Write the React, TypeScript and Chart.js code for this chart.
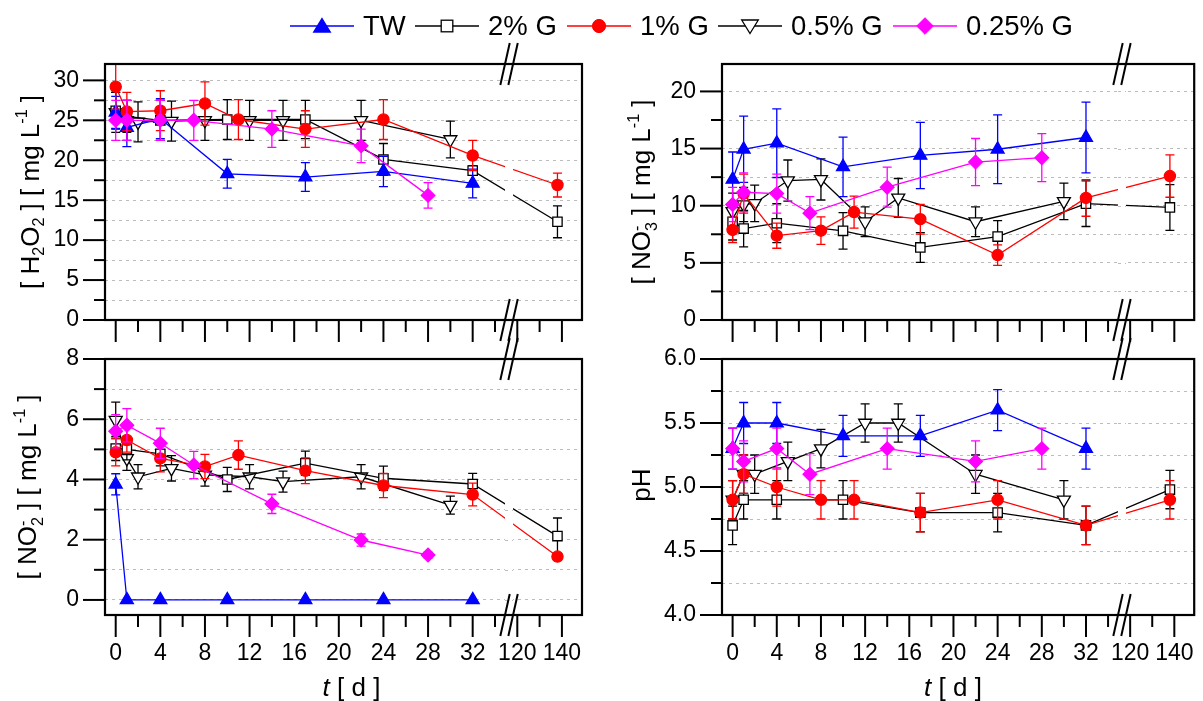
import React, { useEffect, useRef } from "react";
import { Chart, registerables } from "chart.js";
Chart.register(...registerables);

const FONT = '"Liberation Sans", Arial, Helvetica, sans-serif';
Chart.defaults.font.family = FONT;

// ---------- sampling days ----------
const DAYS_TW = [0, 1, 4, 10, 17, 24, 32];
const DAYS_G2 = [0, 1, 4, 10, 17, 24, 32, 138];
const DAYS_G1 = [0, 1, 4, 8, 11, 17, 24, 32, 138];
const DAYS_G05 = [0, 1, 2, 5, 8, 12, 15, 22, 30];
const DAYS_G025 = [0, 1, 4, 7, 14, 22, 28];

// ---------- H2O2 [mg/L] ----------
const H2O2_TW = [26.0, 24.1, 25.2, 18.3, 17.9, 18.6, 17.1];
const H2O2_TW_ERR = [2.0, 2.4, 2.5, 1.8, 1.8, 1.9, 1.8];
const H2O2_G2 = [26.2, 25.5, 25.0, 25.1, 25.1, 20.1, 18.7, 12.3];
const H2O2_G2_ERR = [2.3, 2.0, 2.5, 2.5, 2.4, 2.0, 0.6, 2.0];
const H2O2_G1 = [29.2, 26.1, 26.2, 27.1, 25.1, 23.9, 25.1, 20.6, 16.9];
const H2O2_G1_ERR = [2.8, 2.4, 2.5, 2.7, 2.5, 2.3, 2.5, 1.9, 1.5];
const H2O2_G05 = [26.0, 25.0, 24.8, 24.9, 25.0, 25.0, 25.0, 25.0, 22.6];
const H2O2_G05_ERR = [2.5, 2.5, 2.5, 2.5, 2.5, 2.5, 2.5, 2.5, 2.3];
const H2O2_G025 = [25.0, 25.0, 25.0, 25.0, 23.9, 21.8, 15.6];
const H2O2_G025_ERR = [2.5, 2.5, 2.5, 2.5, 2.3, 2.1, 1.6];

// ---------- NO2- [mg/L] ----------
const NO2_TW = [3.84, 0, 0, 0, 0, 0, 0];
const NO2_TW_ERR = [0.35, 0, 0, 0, 0, 0, 0];
const NO2_G2 = [5.03, 5.0, 4.85, 4.0, 4.54, 4.04, 3.85, 2.12];
const NO2_G2_ERR = [0.4, 0.35, 0.4, 0.4, 0.4, 0.4, 0.35, 0.6];
const NO2_G1 = [4.9, 5.31, 4.7, 4.43, 4.81, 4.29, 3.8, 3.5, 1.44];
const NO2_G1_ERR = [0.45, 0.4, 0.45, 0.4, 0.47, 0.43, 0.4, 0.38, 0.1];
const NO2_G05 = [5.97, 4.7, 4.09, 4.37, 4.15, 4.09, 3.93, 4.09, 3.15];
const NO2_G05_ERR = [0.6, 0.4, 0.4, 0.42, 0.37, 0.4, 0.35, 0.4, 0.3];
const NO2_G025 = [5.6, 5.8, 5.2, 4.48, 3.19, 1.99, 1.49];
const NO2_G025_ERR = [0.55, 0.55, 0.5, 0.45, 0.32, 0.2, 0.1];

// ---------- NO3- [mg/L] ----------
const NO3_TW = [12.3, 14.94, 15.47, 13.4, 14.4, 14.94, 15.97];
const NO3_TW_ERR = [2.4, 2.9, 3.0, 2.6, 2.9, 3.0, 3.1];
const NO3_G2 = [8.6, 8.0, 8.47, 7.8, 6.35, 7.3, 10.18, 9.85];
const NO3_G2_ERR = [1.6, 1.6, 1.7, 1.6, 1.3, 1.4, 2.0, 2.0];
const NO3_G1 = [7.88, 11.06, 7.38, 7.82, 9.44, 8.82, 5.68, 10.68, 12.59];
const NO3_G1_ERR = [1.1, 1.7, 1.1, 1.2, 1.4, 1.3, 0.9, 1.6, 1.85];
const NO3_G05 = [9.5, 10.1, 10.2, 12.2, 12.3, 8.6, 10.68, 8.6, 10.38];
const NO3_G05_ERR = [1.6, 1.5, 1.6, 1.8, 1.8, 1.3, 1.7, 1.3, 1.6];
const NO3_G025 = [10.1, 11.18, 11.06, 9.35, 11.62, 13.82, 14.2];
const NO3_G025_ERR = [1.5, 1.7, 1.7, 1.45, 1.75, 2.06, 2.1];

// ---------- pH ----------
const PH_TW = [5.3, 5.5, 5.5, 5.4, 5.4, 5.6, 5.3];
const PH_TW_ERR = [0.16, 0.16, 0.16, 0.16, 0.16, 0.16, 0.16];
const PH_G2 = [4.7, 4.9, 4.9, 4.9, 4.8, 4.8, 4.7, 4.98];
const PH_G2_ERR = [0.15, 0.15, 0.15, 0.15, 0.15, 0.15, 0.15, 0.15];
const PH_G1 = [4.9, 5.1, 5.0, 4.9, 4.9, 4.8, 4.9, 4.7, 4.9];
const PH_G1_ERR = [0.15, 0.15, 0.15, 0.15, 0.15, 0.15, 0.15, 0.15, 0.15];
const PH_G05 = [4.9, 5.1, 5.1, 5.2, 5.3, 5.5, 5.5, 5.1, 4.9];
const PH_G05_ERR = [0.15, 0.15, 0.15, 0.15, 0.15, 0.15, 0.15, 0.15, 0.15];
const PH_G025 = [5.3, 5.2, 5.3, 5.1, 5.3, 5.2, 5.3];
const PH_G025_ERR = [0.16, 0.16, 0.16, 0.16, 0.16, 0.16, 0.16];

// ---------- axes ----------
// broken time axis: 0..34 d linear, then 120..140 d compressed 5x
const SEG2_START_DAY = 120;
const SEG2_START_POS = 36;
const SEG2_COMPRESS = 5;
const dayToPos = (d: number) => (d <= 34 ? d : SEG2_START_POS + (d - SEG2_START_DAY) / SEG2_COMPRESS);
const X_MIN = -0.96;
const X_MAX = 41.8;
const BREAK_FROM = 34.9;
const BREAK_TO = 35.62;
const X_TICK_POS = [0, 2, 4, 6, 8, 10, 12, 14, 16, 18, 20, 22, 24, 26, 28, 30, 32, 34, 36, 38, 40];
const X_TICK_LABELS = ["0", "", "4", "", "8", "", "12", "", "16", "", "20", "", "24", "", "28", "", "32", "", "120", "", "140"];

const H2O2_Y_TICKS = [0, 2.5, 5, 7.5, 10, 12.5, 15, 17.5, 20, 22.5, 25, 27.5, 30];
const NO3_Y_TICKS = [0, 2.5, 5, 7.5, 10, 12.5, 15, 17.5, 20];
const NO2_Y_TICKS = [0, 1, 2, 3, 4, 5, 6, 7, 8];
const PH_Y_TICKS = [4.0, 4.25, 4.5, 4.75, 5.0, 5.25, 5.5, 5.75, 6.0];

const GRID_COLOR = "#bcbcbc";

type SeriesStyle = {
  label: string;
  days: number[];
  color: string;
  fill: string;
  pointStyle: string;
  rotation: number;
  radius: number;
  order: number;
};

const SERIES: SeriesStyle[] = [
  { label: "TW", days: DAYS_TW, color: "#0000ff", fill: "#0000ff", pointStyle: "triangle", rotation: 0, radius: 7.5, order: 2 },
  { label: "2% G", days: DAYS_G2, color: "#000000", fill: "#ffffff", pointStyle: "rect", rotation: 0, radius: 6.6, order: 3 },
  { label: "1% G", days: DAYS_G1, color: "#ff0000", fill: "#ff0000", pointStyle: "circle", rotation: 0, radius: 5.6, order: 1 },
  { label: "0.5% G", days: DAYS_G05, color: "#000000", fill: "#ffffff", pointStyle: "triangle", rotation: 180, radius: 7.5, order: 4 },
  { label: "0.25% G", days: DAYS_G025, color: "#ff00ff", fill: "#ff00ff", pointStyle: "rectRot", rotation: 0, radius: 6.8, order: 0 },
];

type PanelDef = {
  id: string;
  left: number;
  top: number;
  w: number;
  h: number;
  padTop: number;
  padRight: number;
  yWidth: number;
  xHeight: number;
  yMin: number;
  yMax: number;
  yTicks: number[];
  yMajor: number;
  yDecimals: number;
  showXLabels: boolean;
  values: number[][];
  errs: number[][];
};

const PANELS: PanelDef[] = [
  {
    id: "h2o2", left: 0, top: 30, w: 600, h: 320, padTop: 34, padRight: 18, yWidth: 105, xHeight: 30,
    yMin: 0, yMax: 32.05, yTicks: H2O2_Y_TICKS, yMajor: 5, yDecimals: 0, showXLabels: false,
    values: [H2O2_TW, H2O2_G2, H2O2_G1, H2O2_G05, H2O2_G025],
    errs: [H2O2_TW_ERR, H2O2_G2_ERR, H2O2_G1_ERR, H2O2_G05_ERR, H2O2_G025_ERR],
  },
  {
    id: "no3", left: 600, top: 30, w: 603, h: 320, padTop: 34, padRight: 5, yWidth: 122, xHeight: 30,
    yMin: 0, yMax: 22.4, yTicks: NO3_Y_TICKS, yMajor: 5, yDecimals: 0, showXLabels: false,
    values: [NO3_TW, NO3_G2, NO3_G1, NO3_G05, NO3_G025],
    errs: [NO3_TW_ERR, NO3_G2_ERR, NO3_G1_ERR, NO3_G05_ERR, NO3_G025_ERR],
  },
  {
    id: "no2", left: 0, top: 335, w: 600, h: 366, padTop: 24, padRight: 18, yWidth: 105, xHeight: 86,
    yMin: -0.5, yMax: 8, yTicks: NO2_Y_TICKS, yMajor: 2, yDecimals: 0, showXLabels: true,
    values: [NO2_TW, NO2_G2, NO2_G1, NO2_G05, NO2_G025],
    errs: [NO2_TW_ERR, NO2_G2_ERR, NO2_G1_ERR, NO2_G05_ERR, NO2_G025_ERR],
  },
  {
    id: "ph", left: 600, top: 335, w: 603, h: 366, padTop: 24, padRight: 5, yWidth: 122, xHeight: 86,
    yMin: 4.0, yMax: 6.0, yTicks: PH_Y_TICKS, yMajor: 0.5, yDecimals: 1, showXLabels: true,
    values: [PH_TW, PH_G2, PH_G1, PH_G05, PH_G025],
    errs: [PH_TW_ERR, PH_G2_ERR, PH_G1_ERR, PH_G05_ERR, PH_G025_ERR],
  },
];

const isMajorY = (v: number, step: number) => Math.abs(v / step - Math.round(v / step)) < 1e-6;

function makePlugin(p: PanelDef) {
  return {
    id: "deco_" + p.id,
    beforeDatasetDraw(chart: any, args: any) {
      const i = args.index;
      const s = SERIES[i];
      const errs = p.errs[i];
      const vals = p.values[i];
      const xs = chart.scales.x;
      const ys = chart.scales.y;
      const ctx = chart.ctx;
      ctx.save();
      ctx.strokeStyle = s.color;
      ctx.lineWidth = 1.3;
      for (let j = 0; j < vals.length; j++) {
        const e = errs[j];
        if (!e) continue;
        const px = xs.getPixelForValue(dayToPos(s.days[j]));
        const y0 = ys.getPixelForValue(vals[j] - e);
        const y1 = ys.getPixelForValue(vals[j] + e);
        ctx.beginPath();
        ctx.moveTo(px, y0);
        ctx.lineTo(px, y1);
        ctx.moveTo(px - 4.5, y0);
        ctx.lineTo(px + 4.5, y0);
        ctx.moveTo(px - 4.5, y1);
        ctx.lineTo(px + 4.5, y1);
        ctx.stroke();
      }
      ctx.restore();
    },
    afterDatasetsDraw(chart: any) {
      const { ctx, chartArea: a } = chart;
      const xs = chart.scales.x;
      const ys = chart.scales.y;
      ctx.save();
      // gap in the traces at the axis break
      const bx0 = xs.getPixelForValue(BREAK_FROM);
      const bx1 = xs.getPixelForValue(BREAK_TO);
      ctx.fillStyle = "#ffffff";
      ctx.fillRect(bx0, a.top + 1.5, bx1 - bx0, a.bottom - a.top - 3);
      ctx.strokeStyle = GRID_COLOR;
      ctx.lineWidth = 1;
      ctx.setLineDash([3, 4]);
      for (const v of p.yTicks) {
        const y = Math.round(ys.getPixelForValue(v)) + 0.5;
        if (y <= a.top + 2 || y >= a.bottom - 2) continue;
        ctx.beginPath();
        ctx.moveTo(bx0, y);
        ctx.lineTo(bx1, y);
        ctx.stroke();
      }
      ctx.setLineDash([]);
      // frame
      ctx.strokeStyle = "#000000";
      ctx.lineWidth = 2.2;
      ctx.strokeRect(a.left, a.top, a.right - a.left, a.bottom - a.top);
      // y tick marks
      ctx.lineWidth = 2;
      for (const v of p.yTicks) {
        const y = ys.getPixelForValue(v);
        const len = isMajorY(v, p.yMajor) ? 22 : 11;
        ctx.beginPath();
        ctx.moveTo(a.left - len, y);
        ctx.lineTo(a.left, y);
        ctx.stroke();
      }
      // x tick marks
      X_TICK_POS.forEach((v, k) => {
        const x = xs.getPixelForValue(v);
        const len = X_TICK_LABELS[k] !== "" ? 22 : 12;
        ctx.beginPath();
        ctx.moveTo(x, a.bottom);
        ctx.lineTo(x, a.bottom + len);
        ctx.stroke();
      });
      // break marks
      ctx.lineWidth = 2;
      for (const yy of [a.top, a.bottom]) {
        for (const cx of [bx0, bx1]) {
          ctx.beginPath();
          ctx.moveTo(cx - 4.7, yy + 21);
          ctx.lineTo(cx + 4.7, yy - 21);
          ctx.stroke();
        }
      }
      ctx.restore();
    },
  };
}

function Panel({ p }: { p: PanelDef }) {
  const ref = useRef<HTMLCanvasElement>(null);
  useEffect(() => {
    const datasets = SERIES.map((s, i) => ({
      label: s.label,
      data: s.days.map((d, j) => ({ x: dayToPos(d), y: p.values[i][j] })),
      borderColor: s.color,
      backgroundColor: s.fill,
      borderWidth: 1.3,
      pointStyle: s.pointStyle,
      pointRotation: s.rotation,
      pointRadius: s.radius,
      pointBorderColor: s.color,
      pointBackgroundColor: s.fill,
      pointBorderWidth: 1.3,
      tension: 0,
      fill: false,
      order: s.order,
    }));
    const chart = new Chart(ref.current as HTMLCanvasElement, {
      type: "line",
      data: { datasets } as any,
      options: {
        animation: false,
        responsive: false,
        maintainAspectRatio: false,
        devicePixelRatio: 1,
        events: [],
        layout: { padding: { top: p.padTop, right: p.padRight, left: 0, bottom: 0 } },
        plugins: { legend: { display: false }, tooltip: { enabled: false }, title: { display: false } },
        scales: {
          x: {
            type: "linear",
            min: X_MIN,
            max: X_MAX,
            afterBuildTicks: (s: any) => {
              s.ticks = X_TICK_POS.map((v) => ({ value: v }));
            },
            afterFit: (s: any) => {
              s.height = p.xHeight;
            },
            grid: { drawOnChartArea: false, drawTicks: true, tickLength: 22, tickColor: "rgba(0,0,0,0)" },
            border: { display: false },
            ticks: {
              display: p.showXLabels,
              autoSkip: false,
              maxRotation: 0,
              minRotation: 0,
              padding: 3,
              color: "#000000",
              font: { size: 23, family: FONT },
              callback: (v: any) => {
                const k = X_TICK_POS.indexOf(Number(v));
                return k >= 0 ? X_TICK_LABELS[k] : "";
              },
            },
          },
          y: {
            type: "linear",
            min: p.yMin,
            max: p.yMax,
            afterBuildTicks: (s: any) => {
              s.ticks = p.yTicks.map((v) => ({ value: v }));
            },
            afterFit: (s: any) => {
              s.width = p.yWidth;
            },
            grid: { color: GRID_COLOR, lineWidth: 1, drawTicks: true, tickLength: 22, tickColor: "rgba(0,0,0,0)" },
            border: { display: false, dash: [3, 4] },
            ticks: {
              autoSkip: false,
              padding: 4,
              color: "#000000",
              font: { size: 23, family: FONT },
              callback: (v: any) => {
                const n = Number(v);
                return isMajorY(n, p.yMajor) ? n.toFixed(p.yDecimals) : "";
              },
            },
          },
        },
      } as any,
      plugins: [makePlugin(p)],
    });
    return () => chart.destroy();
  }, []);
  return (
    <canvas
      ref={ref}
      width={p.w}
      height={p.h}
      style={{ position: "absolute", left: p.left, top: p.top, width: p.w, height: p.h }}
    />
  );
}

function Marker({ s }: { s: SeriesStyle }) {
  const cx = 32;
  const cy = 12;
  let shape: React.ReactNode = null;
  if (s.pointStyle === "triangle" && s.rotation === 0) {
    shape = <polygon points={`${cx},${cy - 7.5} ${cx + 8.3},${cy + 6} ${cx - 8.3},${cy + 6}`} fill={s.fill} stroke={s.color} strokeWidth={1.3} />;
  } else if (s.pointStyle === "triangle") {
    shape = <polygon points={`${cx},${cy + 7.5} ${cx + 8.3},${cy - 6} ${cx - 8.3},${cy - 6}`} fill={s.fill} stroke={s.color} strokeWidth={1.3} />;
  } else if (s.pointStyle === "rect") {
    shape = <rect x={cx - 5.8} y={cy - 5.8} width={11.6} height={11.6} fill={s.fill} stroke={s.color} strokeWidth={1.3} />;
  } else if (s.pointStyle === "circle") {
    shape = <circle cx={cx} cy={cy} r={6.6} fill={s.fill} stroke={s.color} strokeWidth={1} />;
  } else {
    shape = <polygon points={`${cx},${cy - 8.3} ${cx + 8.3},${cy} ${cx},${cy + 8.3} ${cx - 8.3},${cy}`} fill={s.fill} stroke={s.color} strokeWidth={1} />;
  }
  return (
    <svg width={64} height={24} style={{ display: "block", flex: "none" }}>
      <line x1={0} y1={cy} x2={64} y2={cy} stroke={s.color} strokeWidth={1.4} />
      {shape}
    </svg>
  );
}

const LEGEND_LEFT = [290, 415, 567, 718, 893];

const subStyle: React.CSSProperties = { fontSize: "0.62em", verticalAlign: "-0.32em", lineHeight: 0 };
const supStyle: React.CSSProperties = { fontSize: "0.62em", verticalAlign: "0.72em", lineHeight: 0 };

function Stack({ top, bottom }: { top: string; bottom: string }) {
  return (
    <span
      style={{
        display: "inline-flex",
        flexDirection: "column",
        alignItems: "flex-start",
        fontSize: "0.62em",
        lineHeight: 0.95,
        verticalAlign: "0.5em",
      }}
    >
      <span>{top}</span>
      <span>{bottom}</span>
    </span>
  );
}

function YTitle({ x, y, children }: { x: number; y: number; children: React.ReactNode }) {
  return (
    <div
      style={{
        position: "absolute",
        left: x,
        top: y,
        transform: "translate(-50%, -50%) rotate(-90deg)",
        whiteSpace: "nowrap",
        fontSize: 26,
        lineHeight: 1,
        color: "#000",
      }}
    >
      {children}
    </div>
  );
}

function XTitle({ x, y }: { x: number; y: number }) {
  return (
    <div
      style={{
        position: "absolute",
        left: x,
        top: y,
        transform: "translate(-50%, -50%)",
        whiteSpace: "nowrap",
        fontSize: 26,
        lineHeight: 1,
        color: "#000",
      }}
    >
      <i>t</i> [ d ]
    </div>
  );
}

export default function App() {
  return (
    <div
      style={{
        position: "absolute",
        left: 0,
        top: 0,
        width: 1203,
        height: 701,
        background: "#ffffff",
        overflow: "hidden",
        fontFamily: FONT,
      }}
    >
      {PANELS.map((p) => (
        <Panel key={p.id} p={p} />
      ))}
      {SERIES.map((s, i) => (
        <div
          key={s.label}
          style={{
            position: "absolute",
            left: LEGEND_LEFT[i],
            top: 14,
            height: 24,
            display: "flex",
            alignItems: "center",
            whiteSpace: "nowrap",
          }}
        >
          <Marker s={s} />
          <span style={{ marginLeft: 9, fontSize: 27.5, lineHeight: 1, color: "#000" }}>{s.label}</span>
        </div>
      ))}
      <YTitle x={30} y={192}>
        [ H<span style={subStyle}>2</span>O<span style={subStyle}>2</span> ] [ mg L<span style={supStyle}>-1</span> ]
      </YTitle>
      <YTitle x={644} y={192}>
        [ NO<Stack top="-" bottom="3" /> ] [ mg L<span style={supStyle}>-1</span> ]
      </YTitle>
      <YTitle x={30} y={487}>
        [ NO<Stack top="-" bottom="2" /> ] [ mg L<span style={supStyle}>-1</span> ]
      </YTitle>
      <YTitle x={641} y={485}>pH</YTitle>
      <XTitle x={351.5} y={687} />
      <XTitle x={953} y={687} />
    </div>
  );
}
